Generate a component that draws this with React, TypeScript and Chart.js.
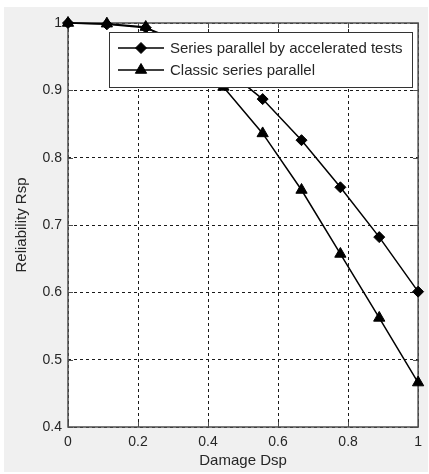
import React, { useEffect, useRef } from 'react';
import { Chart, registerables } from 'chart.js';

Chart.register(...registerables);

// ---- data ----
const damage = [0, 0.111, 0.222, 0.333, 0.444, 0.556, 0.667, 0.778, 0.889, 1];
const accelerated = [1, 0.998, 0.993, 0.97, 0.934, 0.887, 0.826, 0.756, 0.682, 0.601];
const classic = [1, 0.999, 0.994, 0.962, 0.905, 0.836, 0.752, 0.657, 0.562, 0.466];
const seriesNames = ['Series parallel by accelerated tests', 'Classic series parallel'];
const seriesMarkers = ['rectRot', 'triangle'];
const xTicks = [0, 0.2, 0.4, 0.6, 0.8, 1];
const xTickLabels = ['0', '0.2', '0.4', '0.6', '0.8', '1'];
const yTicks = [0.4, 0.5, 0.6, 0.7, 0.8, 0.9, 1];
const yTickLabels = ['0.4', '0.5', '0.6', '0.7', '0.8', '0.9', '1'];
const xTitle = 'Damage Dsp';
const yTitle = 'Reliability Rsp';

const FONT = "'Liberation Sans', Arial, Helvetica, sans-serif";
const TEXT = '#262626';
const FRAME = '#4d4d4d';

function drawMarker(ctx: CanvasRenderingContext2D, style: string, x: number, y: number) {
  ctx.beginPath();
  if (style === 'rectRot') {
    const r = 5.5;
    ctx.moveTo(x - r, y);
    ctx.lineTo(x, y - r);
    ctx.lineTo(x + r, y);
    ctx.lineTo(x, y + r);
  } else {
    const r = 6.5;
    let rad = 0;
    ctx.moveTo(x + Math.sin(rad) * r, y - Math.cos(rad) * r);
    rad += (2 * Math.PI) / 3;
    ctx.lineTo(x + Math.sin(rad) * r, y - Math.cos(rad) * r);
    rad += (2 * Math.PI) / 3;
    ctx.lineTo(x + Math.sin(rad) * r, y - Math.cos(rad) * r);
  }
  ctx.closePath();
  ctx.fillStyle = '#000';
  ctx.fill();
  ctx.strokeStyle = '#000';
  ctx.lineWidth = 1;
  ctx.stroke();
}

const bgPlugin = {
  id: 'bgPlugin',
  beforeDraw(chart: any) {
    const { ctx, width, height, chartArea: a } = chart;
    ctx.save();
    ctx.fillStyle = '#ffffff';
    ctx.fillRect(0, 0, width, height);
    ctx.fillStyle = '#f0f0f0';
    ctx.fillRect(4, 7, width - 5, height - 9);
    ctx.fillStyle = '#ffffff';
    ctx.fillRect(a.left, a.top, a.right - a.left, a.bottom - a.top);
    ctx.restore();
  },
  beforeDatasetsDraw(chart: any) {
    const { ctx, chartArea: a, scales } = chart;
    ctx.save();
    ctx.strokeStyle = FRAME;
    ctx.lineWidth = 1;
    const tl = 5;
    ctx.beginPath();
    xTicks.forEach((v) => {
      const px = Math.round(scales.x.getPixelForValue(v)) + 0.5;
      ctx.moveTo(px, a.bottom);
      ctx.lineTo(px, a.bottom - tl);
      ctx.moveTo(px, a.top);
      ctx.lineTo(px, a.top + tl);
    });
    yTicks.forEach((v) => {
      const py = Math.round(scales.y.getPixelForValue(v)) + 0.5;
      ctx.moveTo(a.left, py);
      ctx.lineTo(a.left + tl, py);
      ctx.moveTo(a.right, py);
      ctx.lineTo(a.right - tl, py);
    });
    ctx.stroke();
    ctx.lineWidth = 1.5;
    ctx.strokeRect(a.left, a.top, a.right - a.left, a.bottom - a.top);
    ctx.restore();
  },
  afterDatasetsDraw(chart: any) {
    const { ctx, chartArea: a } = chart;
    ctx.save();
    ctx.font = `15px ${FONT}`;
    const tw = Math.max(...seriesNames.map((n) => ctx.measureText(n).width));
    const w = Math.round(61 + tw + 9);
    const h = 55;
    const right = Math.round(a.right - 6);
    const left = right - w;
    const top = Math.round(a.top + 9);
    ctx.fillStyle = '#ffffff';
    ctx.fillRect(left, top, w, h);
    ctx.strokeStyle = '#333333';
    ctx.lineWidth = 1;
    ctx.strokeRect(left + 0.5, top + 0.5, w, h);
    const rows = [top + 16, top + 38];
    seriesNames.forEach((name, i) => {
      const y = rows[i];
      ctx.strokeStyle = '#000';
      ctx.lineWidth = 1.5;
      ctx.beginPath();
      ctx.moveTo(left + 9, y);
      ctx.lineTo(left + 55, y);
      ctx.stroke();
      drawMarker(ctx, seriesMarkers[i], left + 32, y);
      ctx.fillStyle = TEXT;
      ctx.textAlign = 'left';
      ctx.textBaseline = 'middle';
      ctx.fillText(name, left + 61, y + 1);
    });
    ctx.restore();
  },
};

export default function App() {
  const ref = useRef<HTMLCanvasElement | null>(null);
  useEffect(() => {
    document.body.style.margin = '0';
    const canvas = ref.current;
    if (!canvas) return;
    const chart = new Chart(canvas, {
      type: 'line',
      data: {
        datasets: [
          {
            label: seriesNames[0],
            data: damage.map((x, i) => ({ x, y: accelerated[i] })),
            borderColor: '#000',
            backgroundColor: '#000',
            borderWidth: 1.5,
            pointStyle: 'rectRot',
            pointRadius: 5.5,
            pointBorderWidth: 1,
            pointBackgroundColor: '#000',
            pointBorderColor: '#000',
            tension: 0,
            clip: false as any,
          },
          {
            label: seriesNames[1],
            data: damage.map((x, i) => ({ x, y: classic[i] })),
            borderColor: '#000',
            backgroundColor: '#000',
            borderWidth: 1.5,
            pointStyle: 'triangle',
            pointRadius: 6.5,
            pointBorderWidth: 1,
            pointBackgroundColor: '#000',
            pointBorderColor: '#000',
            tension: 0,
            clip: false as any,
          },
        ],
      },
      options: {
        responsive: false,
        animation: false,
        events: [],
        layout: { padding: { left: 0, right: 6, top: 23, bottom: 0 } },
        plugins: {
          legend: { display: false },
          tooltip: { enabled: false },
        },
        scales: {
          x: {
            type: 'linear',
            min: 0,
            max: 1,
            afterBuildTicks: (s: any) => {
              s.ticks = xTicks.map((v) => ({ value: v }));
            },
            afterFit: (s: any) => {
              s.height = 47;
            },
            ticks: {
              callback: (_v: any, i: number) => xTickLabels[i],
              color: TEXT,
              font: { family: FONT, size: 14 },
              padding: 7,
              maxRotation: 0,
            },
            grid: { color: '#1a1a1a', lineWidth: 1, drawTicks: false },
            border: { display: false, dash: [3, 3] },
            title: {
              display: true,
              text: xTitle,
              color: TEXT,
              font: { family: FONT, size: 15 },
              padding: { top: 0, bottom: 4 },
            },
          },
          y: {
            type: 'linear',
            min: 0.4,
            max: 1,
            afterBuildTicks: (s: any) => {
              s.ticks = yTicks.map((v) => ({ value: v }));
            },
            afterFit: (s: any) => {
              s.width = 68;
            },
            ticks: {
              callback: (_v: any, i: number) => yTickLabels[i],
              color: TEXT,
              font: { family: FONT, size: 14 },
              padding: 6,
            },
            grid: { color: '#1a1a1a', lineWidth: 1, drawTicks: false },
            border: { display: false, dash: [3, 3] },
            title: {
              display: true,
              text: yTitle,
              color: TEXT,
              font: { family: FONT, size: 15 },
              padding: { top: 13, bottom: 0 },
            },
          },
        },
      },
      plugins: [bgPlugin],
    });
    return () => chart.destroy();
  }, []);
  return <canvas ref={ref} width={429} height={474} style={{ display: 'block' }} />;
}
